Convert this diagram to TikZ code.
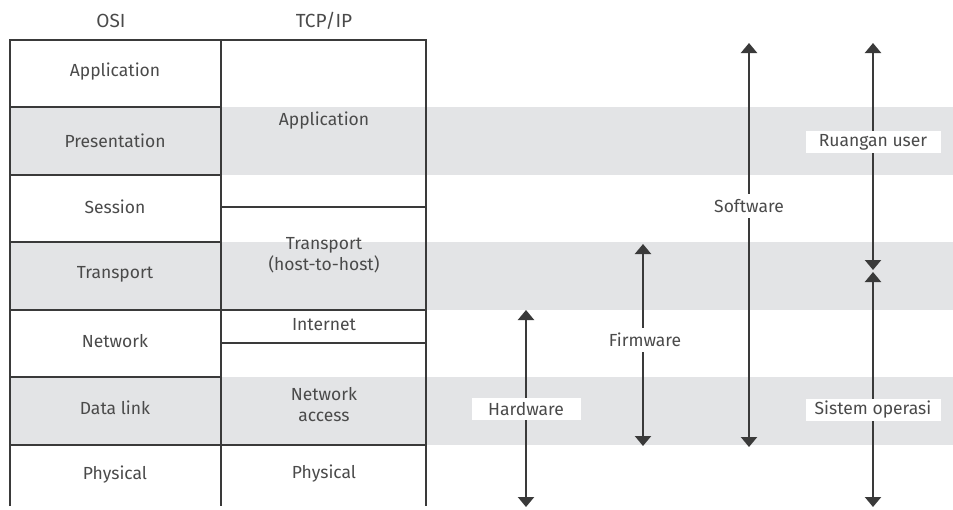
\documentclass[tikz,border=0pt]{standalone}
\usepackage{fontspec}
\setmainfont{Fira Sans}
\usetikzlibrary{arrows.meta}
\definecolor{band}{HTML}{E3E4E6}
\definecolor{ink}{HTML}{3A3A3A}
\definecolor{txt}{HTML}{4A4A4A}
\begin{document}
\begin{tikzpicture}[x=1pt,y=-1pt,
  every node/.style={text=txt,font=\fontsize{17.5}{21}\selectfont,align=center,inner sep=0pt},
  header/.style={font=\fontsize{19}{22}\selectfont},
  grid/.style={draw=ink,line width=2.4pt},
  span/.style={draw=ink,line width=2.2pt,{Triangle[width=16pt,length=10pt]}-{Triangle[width=16pt,length=10pt]}},
  tag/.style={fill=white,minimum height=22pt},
  gaplabel/.style={fill=white,minimum height=24pt,inner xsep=2pt}]
\useasboundingbox (0,0) rectangle (953,509);

% shaded layer bands
\fill[band] (10,107) rectangle (953,175);
\fill[band] (10,242) rectangle (953,310);
\fill[band] (10,377) rectangle (953,445);

% table frame
\draw[grid] (10,506) -- (10,40) -- (426,40) -- (426,506);
\draw[grid] (221,40) -- (221,506);
% OSI row dividers
\foreach \y in {107,175,242,310,377,445}
  \draw[grid] (10,\y) -- (221,\y);
% TCP/IP row dividers
\foreach \y in {207,310,343,445}
  \draw[grid] (221,\y) -- (426,\y);

% column headers
\node[header] (hosi) at (111,21) {OSI};
\node[header] (htcp) at (324,21) {TCP/IP};

% OSI layers
\node (o7) at (115,72)  {Application};
\node (o6) at (115,141) {Presentation};
\node (o5) at (115,207) {Session};
\node (o4) at (115,274) {Transport};
\node (o3) at (115,341) {Network};
\node (o2) at (115,408) {Data link};
\node (o1) at (115,475) {Physical};

% TCP/IP layers
\node (t4) at (324,121) {Application};
\node (t3) at (324,255) {Transport\\(host-to-host)};
\node (t2) at (324,325) {Internet};
\node (t1) at (324,405) {Network\\access};
\node (t0) at (324,474) {Physical};

% span arrows
\coordinate (hwT) at (526,310); \coordinate (hwB) at (526,507);
\coordinate (fwT) at (643,244); \coordinate (fwB) at (643,446);
\coordinate (swT) at (749,43);  \coordinate (swB) at (749,447);
\coordinate (usT) at (873,43);  \coordinate (usB) at (873,270);
\coordinate (osT) at (873,272); \coordinate (osB) at (873,507);

\draw[span] (hwT) -- (hwB);
\draw[span] (fwT) -- (fwB);
\draw[span] (swT) -- (swB);
\draw[span] (usT) -- (usB);
\draw[span] (osT) -- (osB);

\node[tag,minimum width=109pt] (hw) at (526,409) {Hardware};
\node[gaplabel] (fw) at (645,340) {Firmware};
\node[gaplabel] (sw) at (749,206) {Software};
\node[tag,minimum width=135pt] (us) at (873,142) {Ruangan user};
\node[tag,minimum width=135pt] (os) at (873,410) {Sistem operasi};
\end{tikzpicture}
\end{document}
